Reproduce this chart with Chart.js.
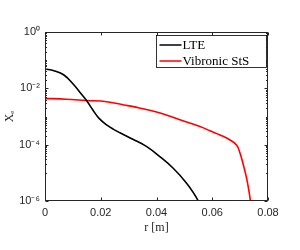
<!DOCTYPE html>
<html>
<head>
<meta charset="utf-8">
<script src="https://cdn.jsdelivr.net/npm/chart.js@4.4.1/dist/chart.umd.min.js"></script>
<style>
html, body { margin: 0; padding: 0; background: #fff; }
</style>
</head>
<body>
<canvas id="myLineChart" width="300" height="250"></canvas>
<script>
// values
const lteR = [0, 0.0032, 0.0068, 0.0104, 0.0128, 0.0149, 0.0170, 0.0194, 0.0224, 0.0246, 0.0269, 0.0317, 0.0365, 0.0413, 0.0460, 0.0508, 0.0538, 0.0550];
const lteX = [0.0486, 0.0423, 0.0298, 0.0131, 0.0067, 0.0037, 0.0018, 8.6e-4, 4.8e-4, 3.5e-4, 2.64e-4, 1.53e-4, 8.5e-5, 3.7e-5, 1.45e-5, 4.3e-6, 1.6e-6, 1e-6];
const stsR = [0, 0.0075, 0.0149, 0.0221, 0.0283, 0.0317, 0.0413, 0.0484, 0.0556, 0.0592, 0.0628, 0.0664, 0.0687, 0.0698, 0.0710, 0.0722, 0.0731, 0.0737];
const stsX = [0.0044, 0.0041, 0.0037, 0.00336, 0.00256, 0.00224, 0.00133, 7.6e-4, 4.4e-4, 3.1e-4, 2.2e-4, 1.47e-4, 9.8e-5, 5.6e-5, 2.2e-5, 7.3e-6, 2.5e-6, 1e-6];
const seriesNames = ['LTE', 'Vibronic StS'];
const xTicks = [0, 0.02, 0.04, 0.06, 0.08];
const xTickLabels = ['0', '0.02', '0.04', '0.06', '0.08'];
const yTicks = [1, 1e-2, 1e-4, 1e-6];
const yTickLabels = ['10⁰', '10⁻²', '10⁻⁴', '10⁻⁶'];

const axisColor = '#262626';

// MATLAB style box with inward ticks, plus the legend inside the axes
const boxPlugin = {
    id: 'box',
    afterDraw(chart) {
        const ctx = chart.ctx;
        const a = chart.chartArea;
        const x = chart.scales.x;
        const y = chart.scales.y;
        ctx.save();
        ctx.strokeStyle = axisColor;
        ctx.lineWidth = 1;
        const L = Math.round(a.left) + 0.5, R = Math.round(a.right) - 0.5;
        const T = Math.round(a.top) + 0.5, B = Math.round(a.bottom) - 0.5;
        ctx.strokeRect(L, T, R - L, B - T);
        ctx.beginPath();
        xTicks.forEach(v => {
            const px = Math.round(x.getPixelForValue(v)) + 0.5;
            ctx.moveTo(px, B); ctx.lineTo(px, B - 3);
            ctx.moveTo(px, T); ctx.lineTo(px, T + 3);
        });
        for (let k = 0; k >= -6; k--) {
            for (let m = 1; m <= 9; m++) {
                const v = m * Math.pow(10, k);
                if (v > 1 || (k === -6 && m > 1)) continue;
                const py = Math.round(y.getPixelForValue(v)) + 0.5;
                const len = yTicks.includes(v) ? 3 : 1.5;
                ctx.moveTo(L, py); ctx.lineTo(L + len, py);
                ctx.moveTo(R, py); ctx.lineTo(R - len, py);
            }
        }
        ctx.stroke();

        // legend
        const lw = 110, lh = 32;
        const lx = Math.round(a.right) - 2 - lw + 0.5;
        const ly = Math.round(a.top) + 3 + 0.5;
        ctx.fillStyle = '#fff';
        ctx.fillRect(lx, ly, lw, lh);
        ctx.strokeStyle = '#000';
        ctx.lineWidth = 0.8;
        ctx.strokeRect(lx, ly, lw, lh);
        ctx.font = '13px "Liberation Serif"';
        ctx.textBaseline = 'middle';
        ctx.fillStyle = '#000';
        chart.data.datasets.forEach((ds, i) => {
            const cy = ly + 9.5 + i * 16;
            ctx.strokeStyle = ds.borderColor;
            ctx.lineWidth = 1.5;
            ctx.beginPath();
            ctx.moveTo(lx + 3, cy); ctx.lineTo(lx + 25, cy);
            ctx.stroke();
            ctx.fillText(ds.label, lx + 26, cy + 0.5);
        });
        ctx.restore();
    }
};

const lineCtx = document.getElementById('myLineChart');
new Chart(lineCtx, {
    type: 'line',
    data: {
        datasets: [{
            label: seriesNames[0],
            data: lteR.map((r, i) => ({ x: r, y: lteX[i] })),
            borderColor: '#000000',
            backgroundColor: '#000000'
        }, {
            label: seriesNames[1],
            data: stsR.map((r, i) => ({ x: r, y: stsX[i] })),
            borderColor: '#ff0000',
            backgroundColor: '#ff0000'
        }]
    },
    options: {
        responsive: false,
        animation: false,
        layout: { padding: { left: 0, top: 32, right: 32, bottom: 0 } },
        elements: {
            point: { radius: 0 },
            line: { borderWidth: 1.6, tension: 0.4 }
        },
        plugins: {
            legend: { display: false },
            tooltip: { enabled: false }
        },
        scales: {
            x: {
                type: 'linear',
                min: 0,
                max: 0.08,
                afterBuildTicks: s => { s.ticks = xTicks.map(v => ({ value: v })); },
                afterFit: s => { s.height = 49; },
                grid: { display: false, drawTicks: false },
                border: { display: false },
                ticks: {
                    callback: (v, i) => xTickLabels[i],
                    font: { family: 'Liberation Sans', size: 11 },
                    color: axisColor,
                    padding: 5,
                    maxRotation: 0,
                    autoSkip: false
                },
                title: {
                    display: true,
                    text: 'r [m]',
                    font: { family: 'Liberation Serif', size: 12 },
                    color: axisColor,
                    padding: { top: 0, bottom: 15 }
                }
            },
            y: {
                type: 'logarithmic',
                min: 1e-6,
                max: 1,
                afterBuildTicks: s => { s.ticks = yTicks.map(v => ({ value: v })); },
                afterFit: s => { s.width = 45; },
                grid: { display: false, drawTicks: false },
                border: { display: false },
                ticks: {
                    callback: (v, i) => yTickLabels[i],
                    font: { family: 'Liberation Sans', size: 11 },
                    color: axisColor,
                    padding: 5,
                    autoSkip: false
                },
                title: {
                    display: true,
                    text: 'Xₑ',
                    font: { family: 'Liberation Serif', size: 12 },
                    color: axisColor,
                    padding: { top: 3, bottom: 0 }
                }
            }
        }
    },
    plugins: [boxPlugin]
});
</script>
</body>
</html>
